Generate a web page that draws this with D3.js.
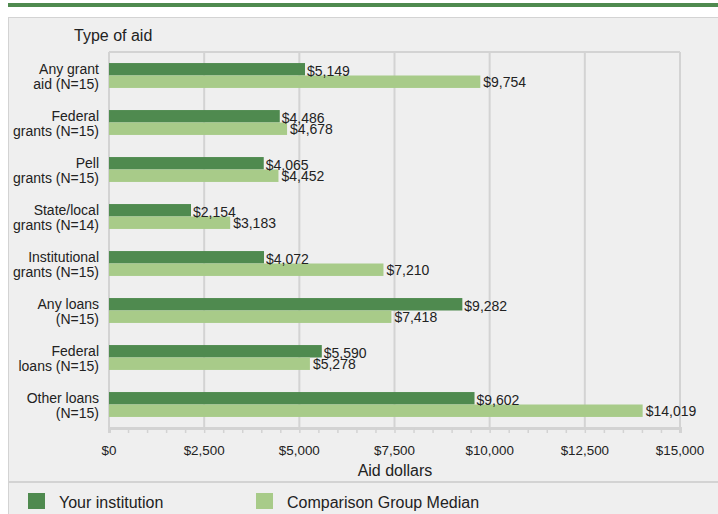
<!DOCTYPE html>
<html>
<head>
<meta charset="utf-8">
<script src="https://cdn.jsdelivr.net/npm/d3@7"></script>
<style>
  body { margin: 0; background: #fff; font-family: "Liberation Sans", Arial, sans-serif; }
  text { fill: #222; }
</style>
</head>
<body>
<div class="chart"></div>
<script>
const categories = [
  ["Any grant", "aid (N=15)"],
  ["Federal", "grants (N=15)"],
  ["Pell", "grants (N=15)"],
  ["State/local", "grants (N=14)"],
  ["Institutional", "grants (N=15)"],
  ["Any loans", "(N=15)"],
  ["Federal", "loans (N=15)"],
  ["Other loans", "(N=15)"]
]
const yourValues = [5149, 4486, 4065, 2154, 4072, 9282, 5590, 9602]
const compValues = [9754, 4678, 4452, 3183, 7210, 7418, 5278, 14019]
const xTicks = [0, 2500, 5000, 7500, 10000, 12500, 15000]
const seriesNames = ["Your institution", "Comparison Group Median"]

const dark = "#4f8a4f", light = "#a8cb89", grid = "#d3d3d3"
const W = 718, H = 514
const margin = ({top: 52, right: 38, bottom: 86, left: 109})
const width = W - margin.left - margin.right,
      height = H - margin.top - margin.bottom

const data = categories.map((c, i) => ({id: i, label: c, your: yourValues[i], comp: compValues[i]}))

let root = d3.select(".chart").append("svg")
    .attr("width", W)
    .attr("height", H)

// top green rule + panel
root.append("rect").attr("x", 8).attr("y", 3).attr("width", W - 8).attr("height", 4).attr("fill", dark)
root.append("rect").attr("x", 8.5).attr("y", 17.5).attr("width", W).attr("height", H)
    .attr("fill", "#efefef").attr("stroke", grid).attr("stroke-width", 1)
root.append("line").attr("x1", 8).attr("x2", W).attr("y1", 482).attr("y2", 482)
    .attr("stroke", grid).attr("stroke-width", 2)

let svg = root.append("g")
    .attr("transform", "translate(" + margin.left + "," + margin.top + ")")

const xScale = d3.scaleLinear().domain([0, 15000]).range([0, width])
const yScale = d3.scaleBand().domain(data.map(d => d.id)).range([0, height]).paddingInner(0.47).paddingOuter(0.235)

// gridlines
svg.selectAll(".grid").data(xTicks).enter().append("line")
    .attr("x1", d => xScale(d)).attr("x2", d => xScale(d))
    .attr("y1", 0).attr("y2", height)
    .attr("stroke", grid).attr("stroke-width", 2)
svg.append("line").attr("x1", 0).attr("x2", width).attr("y1", 0).attr("y2", 0)
    .attr("stroke", grid).attr("stroke-width", 2)

// x axis
let xAxis = d3.axisBottom(xScale).tickValues(d3.range(0, 15001, 500)).tickSize(5).tickFormat("")
let gx = svg.append("g").attr("transform", `translate(0, ${height})`).call(xAxis)
gx.select(".domain").attr("stroke", grid).attr("stroke-width", 3)
gx.selectAll(".tick line").attr("stroke", grid).attr("stroke-width", 1.5)

svg.selectAll(".xlab").data(xTicks).enter().append("text")
    .attr("x", d => xScale(d)).attr("y", height + 27)
    .attr("text-anchor", "middle").attr("font-size", 13.4)
    .text(d => "$" + d3.format(",")(d))

svg.append("text").attr("x", 286).attr("y", height + 48)
    .attr("text-anchor", "middle").attr("font-size", 16).text("Aid dollars")

svg.append("text").attr("x", -35).attr("y", -11).attr("font-size", 16).text("Type of aid")

const bh = yScale.bandwidth() / 2

// bars
svg.selectAll(".bar-your").data(data).enter().append("rect")
    .attr("x", 0).attr("y", d => yScale(d.id))
    .attr("width", d => xScale(d.your)).attr("height", bh).attr("fill", dark)
svg.selectAll(".bar-comp").data(data).enter().append("rect")
    .attr("x", 0).attr("y", d => yScale(d.id) + bh)
    .attr("width", d => xScale(d.comp)).attr("height", bh).attr("fill", light)

// value labels
svg.selectAll(".lab-your").data(data).enter().append("text")
    .attr("x", d => xScale(d.your) + 2).attr("y", d => yScale(d.id) + bh)
    .attr("font-size", 14).text(d => "$" + d3.format(",")(d.your))
svg.selectAll(".lab-comp").data(data).enter().append("text")
    .attr("x", d => xScale(d.comp) + 3).attr("y", d => yScale(d.id) + bh * 2 - 0.5)
    .attr("font-size", 14).text(d => "$" + d3.format(",")(d.comp))

// category labels
let cl = svg.selectAll(".cat").data(data).enter().append("text")
    .attr("text-anchor", "end").attr("font-size", 14)
    .attr("y", d => yScale(d.id) + bh)
cl.append("tspan").attr("x", -10).attr("dy", -2).text(d => d.label[0])
cl.append("tspan").attr("x", -10).attr("dy", 15).text(d => d.label[1])

// legend
const legend = root.append("g")
seriesNames.forEach((n, i) => {
  const lx = i == 0 ? 28 : 256
  legend.append("rect").attr("x", lx).attr("y", 493).attr("width", 17).attr("height", 16)
      .attr("fill", i == 0 ? dark : light)
  legend.append("text").attr("x", lx + 31).attr("y", 508).attr("font-size", 16).text(n)
})
</script>
</body>
</html>
